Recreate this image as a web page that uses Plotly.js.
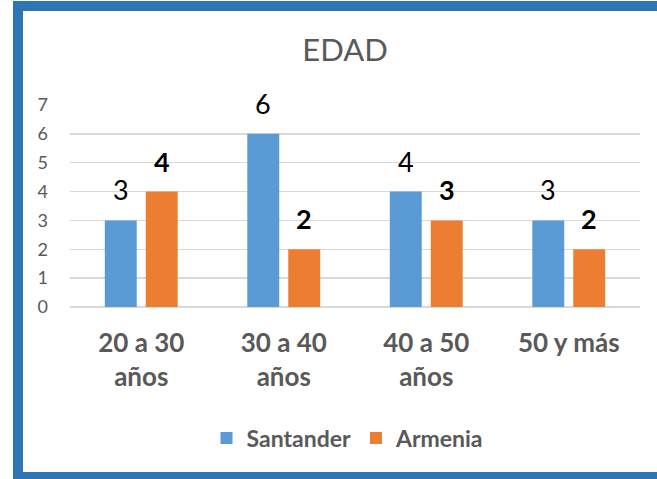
<!DOCTYPE html>
<html>
<head>
<meta charset="utf-8">
<script src="https://cdn.plot.ly/plotly-3.0.1.min.js"></script>
<style>
  html, body { margin:0; padding:0; width:657px; height:479px; overflow:hidden; background:#fff; }
  #frame { position:absolute; left:13px; top:1px; width:700px; height:478px; box-sizing:border-box;
           border-left:10px solid #2E75B6; border-top:10px solid #2E75B6; border-bottom:7px solid #2E75B6; }
  #chart { position:absolute; left:0; top:0; width:657px; height:479px; }
</style>
</head>
<body>
<div id="frame"></div>
<div id="chart"></div>
<script>
const categories = ["20 a 30<br>años", "30 a 40<br>años", "40 a 50<br>años", "50 y más"];
const santander = [3, 6, 4, 3];
const armenia = [4, 2, 3, 2];
const seriesNames = ["Santander", "Armenia"];
const seriesColors = ["#5B9BD5", "#ED7D31"];
const yTicks = [0, 1, 2, 3, 4, 5, 6, 7];

const FONT = "Lato, 'Open Sans', sans-serif";
const GRAY = "#595959";
const bargap = 0.425, bargroupgap = 0.22;
const plotLeft = 70, plotRight = 640;
const catWidth = (plotRight - plotLeft) / categories.length;
const slot = catWidth * (1 - bargap) / 2;

const seriesValues = [santander, armenia];
const traces = seriesValues.map((vals, i) => ({
  type: "bar", name: seriesNames[i], x: categories, y: vals,
  marker: { color: seriesColors[i] }, hoverinfo: "skip"
}));

const annotations = [];
seriesValues.forEach((vals, i) => {
  vals.forEach((v, j) => {
    annotations.push({
      x: categories[j], y: v, xref: "x", yref: "y",
      text: String(v), showarrow: false,
      xanchor: "center", yanchor: "bottom",
      xshift: (i === 0 ? -1 : 1) * slot / 2, yshift: 12,
      font: { family: FONT, size: 27, color: "#000", weight: i === 1 ? "bold" : "normal" }
    });
  });
});

const layout = {
  width: 657, height: 479,
  margin: { l: plotLeft, r: 657 - plotRight, t: 105, b: 172 },
  paper_bgcolor: "rgba(0,0,0,0)", plot_bgcolor: "rgba(0,0,0,0)",
  barmode: "group", bargap: bargap, bargroupgap: bargroupgap,
  title: { text: "EDAD", x: 345 / 657, xanchor: "center", xref: "container",
           y: 1 - 50 / 479, yanchor: "middle", yref: "container",
           font: { family: FONT, size: 31, color: GRAY } },
  xaxis: { type: "category", showgrid: false, zeroline: false, showline: false,
           ticks: "", tickfont: { family: FONT, size: 26, color: GRAY, weight: "bold" },
           ticklabelstandoff: 18, fixedrange: true },
  yaxis: { range: [0, 7], tickvals: yTicks, ticktext: yTicks.map(String),
           showgrid: true, gridcolor: "#D9D9D9", gridwidth: 1.5,
           zeroline: true, zerolinecolor: "#D9D9D9", zerolinewidth: 1.5,
           showline: false, ticks: "", ticklabelstandoff: 21,
           tickfont: { family: FONT, size: 18, color: GRAY }, fixedrange: true },
  showlegend: true,
  legend: { orientation: "h", xref: "container", yref: "container",
            x: 348 / 657, xanchor: "center", y: 1 - 438 / 479, yanchor: "middle",
            font: { family: FONT, size: 23, color: GRAY, weight: "bold" },
            itemclick: false, itemdoubleclick: false },
  annotations: annotations
};

Plotly.newPlot("chart", traces, layout, { displayModeBar: false, staticPlot: true });
</script>
</body>
</html>
